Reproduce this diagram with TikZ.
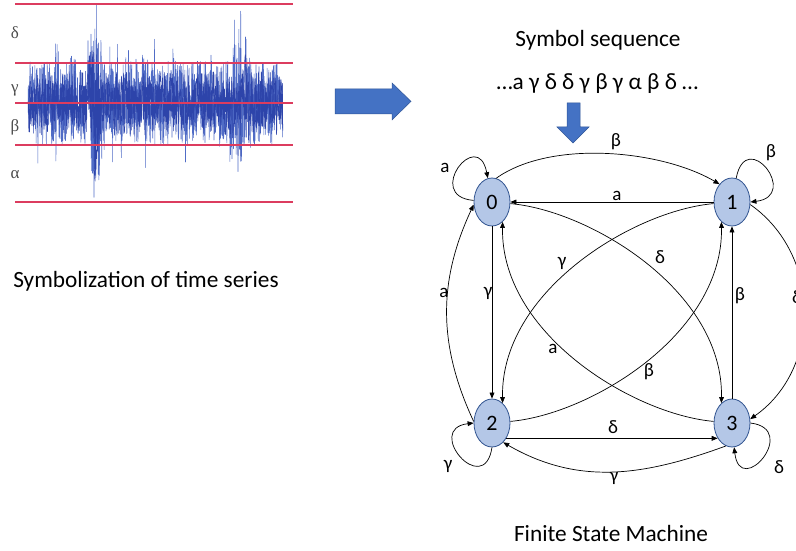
\documentclass[tikz,border=0pt]{standalone}
\usepackage{fontspec}
\setmainfont{Carlito}
\newfontfamily\serifgreek{Liberation Serif}
\usetikzlibrary{arrows.meta,shapes.geometric}

\definecolor{stateFill}{RGB}{180,199,231}
\definecolor{stateLine}{RGB}{47,82,143}
\definecolor{officeBlue}{RGB}{68,114,196}
\definecolor{officeBlueDark}{RGB}{47,85,151}
\definecolor{levelRed}{RGB}{220,60,95}
\definecolor{signalBlue}{RGB}{45,68,170}
\definecolor{signalLight}{RGB}{80,108,198}

\begin{document}
\begin{tikzpicture}[x=1pt,y=1pt,
  state/.style={ellipse, draw=stateLine, fill=stateFill, line width=0.8pt,
    minimum width=36pt, minimum height=48pt, inner sep=0pt,
    font=\fontsize{22}{24}\selectfont},
  trans/.style={draw=black, line width=0.7pt, -{Triangle[length=6pt,width=4.8pt]}},
  elabel/.style={font=\fontsize{19}{21}\selectfont, inner sep=0pt},
  caption/.style={font=\fontsize{23.3}{26}\selectfont, inner sep=0pt},
  levelline/.style={draw=levelRed, line width=1.3pt},
  levellabel/.style={font=\serifgreek\fontsize{17}{19}\selectfont, text=black!70, inner sep=0pt},
  blockarrow/.style={fill=officeBlue, draw=officeBlueDark, line width=0.5pt}
]
\useasboundingbox (0,0) rectangle (796,550);

% ---- time series with symbol levels ----
% amplitude envelope: bursts near x = 70, 95, 150 and 240
\pgfmathsetseed{11}
\draw[signalLight, line width=0.55pt, line join=round] (28,447)
  \foreach \x in {28.3,28.6,...,283} {
    -- (\x,{447+max(-99,min(99,(42+72*max(0,1-abs(\x-95)/9)+40*max(0,1-abs(\x-240)/14)+10*max(0,1-abs(\x-70)/8)+8*max(0,1-abs(\x-150)/10))*rand*(1+0.45*(rnd>0.9))))})
  };
\pgfmathsetseed{5}
\draw[signalBlue, line width=0.5pt, line join=round] (28,447)
  \foreach \x in {28.4,28.8,...,283} {
    -- (\x,{447+max(-99,min(99,(32+60*max(0,1-abs(\x-95)/8)+30*max(0,1-abs(\x-240)/12))*rand))})
  };
\pgfmathsetseed{23}
\draw[signalBlue, line width=0.5pt, line join=round] (28,447)
  \foreach \x in {28.3,28.6,...,283} {
    -- (\x,{447+(22+40*max(0,1-abs(\x-95)/7))*rand})
  };
\draw[levelline] (15,546) -- (293,546);
\draw[levelline] (15,487) -- (293,487);
\draw[levelline] (15,447) -- (293,447);
\draw[levelline] (15,405) -- (293,405);
\draw[levelline] (15,348) -- (293,348);
\node[levellabel] (lvd) at (15,517) {δ};
\node[levellabel] (lvg) at (15,460) {γ};
\node[levellabel] (lvb) at (15,423) {β};
\node[levellabel] (lva) at (15,375) {α};

\node[caption] (captsym) at (146,269) {Symbolization of time series};

% ---- block arrows ----
\draw[blockarrow] (335,436.1) -- (392,436.1) -- (392,430.1) -- (411,448.6)
  -- (392,467.1) -- (392,461.1) -- (335,461.1) -- cycle;
\draw[blockarrow] (567,447) -- (580,447) -- (580,423) -- (589,423)
  -- (573,407) -- (557,423) -- (567,423) -- cycle;

\node[caption] (seqtitle) at (598,509.5) {Symbol sequence};
\node[caption] (seq) at (597.5,466.5) {…a γ δ δ γ β γ α β δ …};

% ---- finite state machine ----
\node[state] (s0) at (492,348) {0};
\node[state] (s1) at (732,348) {1};
\node[state] (s2) at (492,127) {2};
\node[state] (s3) at (732,127) {3};

% self loops
\draw[trans] (s0.175) .. controls +(-50,4) and +(-10,52) .. (s0.100);
\draw[trans] (s1.80) .. controls +(10,52) and +(50,6) .. (s1.east);
\draw[trans] (s2.-90) .. controls +(-8,-52) and +(-50,-6) .. (s2.west);
\draw[trans] (s3.east) .. controls +(50,-6) and +(6,-52) .. (s3.-85);

% outer transitions
\draw[trans] (s0.80) .. controls +(55,39) and +(-58,34) .. (s1.125);
\draw[trans] (s1.west) -- (s0.east);
\draw[trans] (s0.south) -- (s2.north);
\draw[trans] (s3.north) -- (s1.south);
\draw[trans] (s2.-47) -- (s3.-133);
\draw[trans] (s3.-105) to[out=-160,in=-30] (s2.-60);
\draw[trans] (s2.175) to[out=115,in=-115] (s0.188);
\draw[trans] (s1.-8) to[out=-35,in=35,looseness=1.05] (s3.12);

% crossing transitions
\draw[trans] (s0.-5) .. controls +(80,-7) and +(2,112) .. (s3.118);
\draw[trans] (s3.175) .. controls +(-80,7) and +(-2,-112) .. (s0.-62);
\draw[trans] (s1.185) .. controls +(-80,-7) and +(-2,112) .. (s2.62);
\draw[trans] (s2.5) .. controls +(80,7) and +(2,-112) .. (s1.-118);

% transition labels
\node[elabel] (la00) at (445,382) {a};
\node[elabel] (lb11) at (771,397) {β};
\node[elabel] (lg22) at (448,84) {γ};
\node[elabel] (ld33) at (779,83) {δ};
\node[elabel] (lb01) at (616,408) {β};
\node[elabel] (la10) at (617,354.5) {a};
\node[elabel] (la20) at (444,257) {a};
\node[elabel] (lg02) at (488,257) {γ};
\node[elabel] (lb31) at (740,254) {β};
\node[elabel, anchor=west] (ld13) at (792,253) {δ};
\node[elabel] (lg12) at (562,287) {γ};
\node[elabel] (ld03) at (660,293) {δ};
\node[elabel] (la30) at (553,201) {a};
\node[elabel] (lb21) at (649,178) {β};
\node[elabel] (ld23) at (613,123) {δ};
\node[elabel] (lg32) at (614,72) {γ};

\node[caption] (captfsm) at (611,17) {Finite State Machine};
\end{tikzpicture}
\end{document}
